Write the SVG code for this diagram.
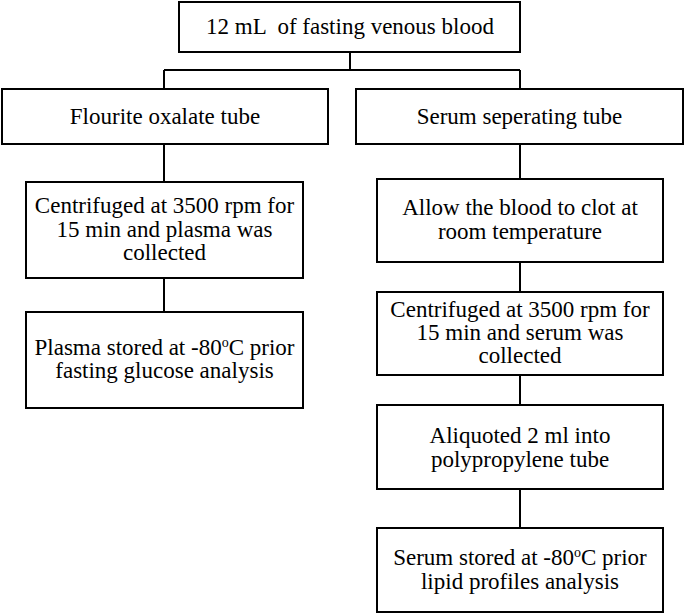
<svg xmlns="http://www.w3.org/2000/svg" width="685" height="613" viewBox="0 0 685 613">
<style>
.b{fill:#fff;stroke:#000;stroke-width:2}
.c{fill:none;stroke:#000;stroke-width:2}
text{font-family:"Liberation Serif","Times New Roman",serif;font-size:23px;fill:#000;text-anchor:middle}
.s{font-size:14px}
</style>
<rect width="685" height="613" fill="#fff"/>
<g id="connectors">
<path class="c" d="M350 52V70M164 70H520M164 70V89M520 70V89"/>
<path class="c" d="M164 144V182M164 278V312"/>
<path class="c" d="M520 144V179M520 262V292M520 375V405M520 489V528"/>
</g>
<g id="n1"><rect class="b" x="179" y="2" width="341" height="50"/><text x="350" y="34" xml:space="preserve" style="white-space:pre">12 mL  of fasting venous blood</text></g>
<g id="n2"><rect class="b" x="2" y="89" width="326" height="55"/><text x="165" y="124">Flourite oxalate tube</text></g>
<g id="n3"><rect class="b" x="356" y="89" width="327" height="55"/><text x="519.5" y="124">Serum seperating tube</text></g>
<g id="n4"><rect class="b" x="26" y="182" width="277" height="96"/><text x="164.5" y="213">Centrifuged at 3500 rpm for</text><text x="164.5" y="237">15 min and plasma was</text><text x="164.5" y="260">collected</text></g>
<g id="n5"><rect class="b" x="26" y="312" width="277" height="96"/><text x="164.5" y="355">Plasma stored at -80<tspan class="s" dy="-8">o</tspan><tspan dy="8">C prior</tspan></text><text x="164.5" y="378">fasting glucose analysis</text></g>
<g id="n6"><rect class="b" x="377" y="179" width="286" height="83"/><text x="520" y="215">Allow the blood to clot at</text><text x="520" y="239">room temperature</text></g>
<g id="n7"><rect class="b" x="377" y="292" width="286" height="83"/><text x="520" y="317">Centrifuged at 3500 rpm for</text><text x="520" y="340">15 min and serum was</text><text x="520" y="363">collected</text></g>
<g id="n8"><rect class="b" x="377" y="405" width="286" height="84"/><text x="520" y="443">Aliquoted 2 ml into</text><text x="520" y="467">polypropylene tube</text></g>
<g id="n9"><rect class="b" x="377" y="528" width="286" height="84"/><text x="520" y="565">Serum stored at -80<tspan class="s" dy="-8">o</tspan><tspan dy="8">C prior</tspan></text><text x="520" y="589">lipid profiles analysis</text></g>
</svg>
